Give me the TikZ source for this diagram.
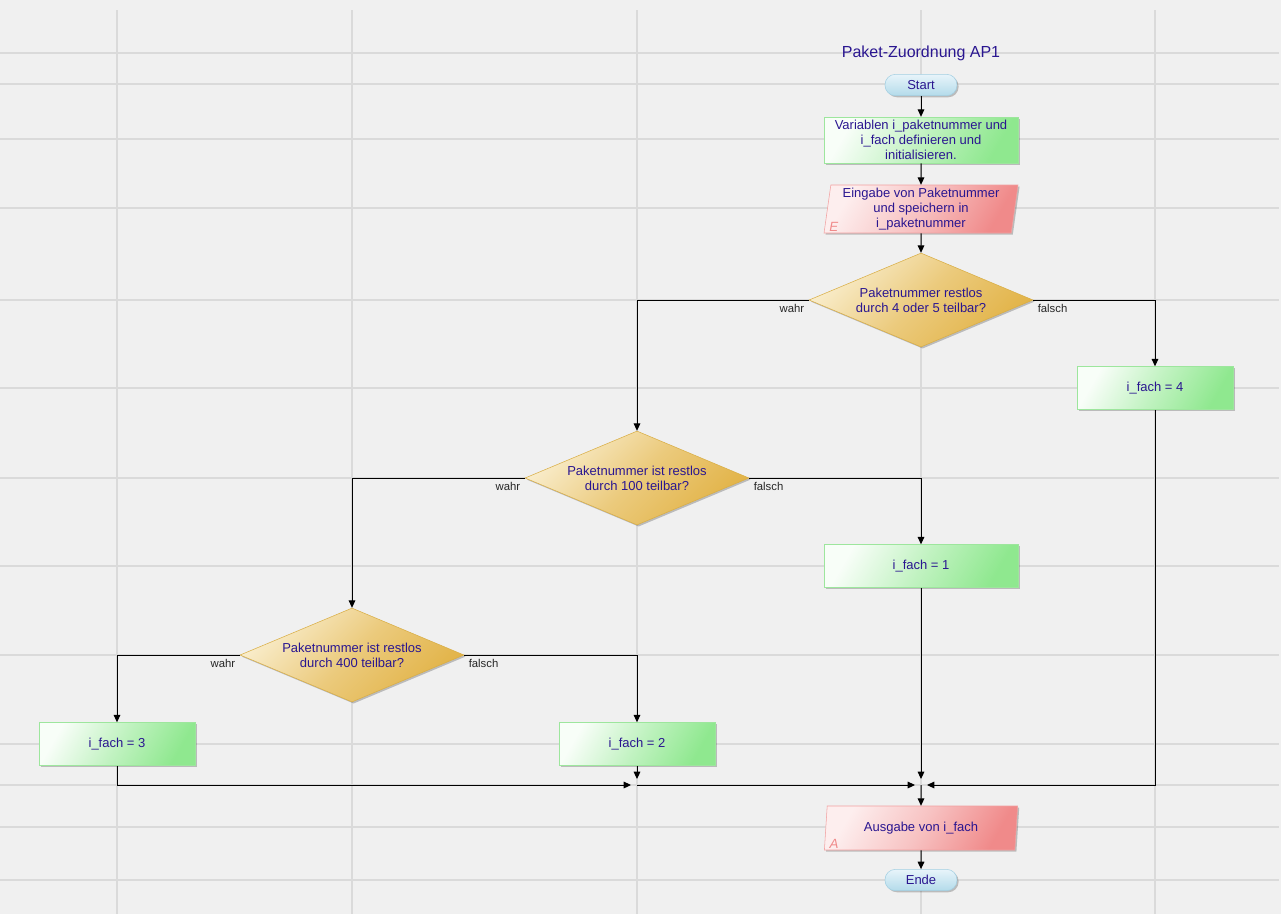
\documentclass[tikz,border=0pt]{standalone}
\usepackage{fontspec}
\setmainfont{Liberation Sans}
\usepackage{tikz}
\usetikzlibrary{arrows.meta,shapes.geometric,shadows}
\definecolor{paper}{HTML}{F0F0F0}
\definecolor{gridline}{HTML}{DADADA}
\definecolor{txtblue}{HTML}{2A1690}
\definecolor{greenend}{HTML}{8FE88F}
\definecolor{greenrim}{HTML}{9DE69D}
\definecolor{redstart}{HTML}{FDEEEE}
\definecolor{redend}{HTML}{F08A8A}
\definecolor{redrim}{HTML}{F2A0A0}
\definecolor{goldstart}{HTML}{F9EDCC}
\definecolor{goldend}{HTML}{E2B347}
\definecolor{goldrim}{HTML}{D9AE45}
\definecolor{bluestart}{HTML}{E8F4FA}
\definecolor{blueend}{HTML}{B3DBEA}
\definecolor{bluerim}{HTML}{A3CFE2}
\newcommand{\flowfont}{\fontsize{9.75pt}{11.25pt}\selectfont}
\newcommand{\lblfont}{\fontsize{8.5pt}{10pt}\selectfont}

\begin{document}
\begin{tikzpicture}[x=0.75pt, y=-0.75pt,
    boxshadow/.style={drop shadow={shadow xshift=1.2pt, shadow yshift=-1.2pt, fill=black, opacity=0.22}},
    terminal/.style={draw=bluerim, top color=bluestart, bottom color=blueend, rounded corners=7.8pt, minimum width=54pt, minimum height=16pt, inner sep=0pt, font=\flowfont, text=txtblue, boxshadow},
    process/.style={draw=greenrim, top color=greenend!6!white, bottom color=greenend, middle color=greenend!55!white, shading angle=60, minimum width=117pt, minimum height=32.25pt, inner sep=0pt, align=center, font=\flowfont, text=txtblue, boxshadow},
    io/.style={trapezium, trapezium left angle=82, trapezium right angle=98, trapezium stretches=true, draw=redrim, top color=redstart, bottom color=redend, middle color=redend!52!white, shading angle=60, minimum width=145.5pt, minimum height=33pt, inner sep=0pt, align=center, font=\flowfont, text=txtblue, boxshadow},
    iotag/.style={anchor=south west, inner sep=1.5pt, xshift=2.5pt, font=\fontsize{10pt}{12pt}\selectfont\itshape, text=redend},
    decision/.style={diamond, aspect=2.38, draw=goldrim, top color=goldstart, bottom color=goldend, middle color=goldend!60!goldstart, shading angle=45, minimum width=168pt, minimum height=70.5pt, inner sep=0pt, align=center, font=\flowfont, text=txtblue, boxshadow},
    lbl/.style={font=\lblfont, text=black!85, inner sep=3pt},
    flow/.style={draw=black, line width=0.75pt, -{Triangle[length=5.5pt,width=5pt]}},
    merge/.style={flow, shorten >=4.5pt}
  ]
  % Paper and grid
  \fill[paper] (0,0) rectangle (1281,914);
  \useasboundingbox (0,0) rectangle (1281,914);
  \foreach \gx in {117,352,637,921,1155}
    \draw[gridline, line width=1pt] (\gx,10) -- (\gx,914);
  \foreach \gy in {53,84,139,208,300,388,478,566,655,744,785,827,880}
    \draw[gridline, line width=1pt] (0,\gy) -- (1279,\gy);

  % Title
  \node[font=\fontsize{12pt}{14pt}\selectfont, text=txtblue] (title) at (921,53) {Paket-Zuordnung AP1};

  % Start and input
  \node[terminal] (start) at (921,85) {Start};
  \node[process, minimum width=145.5pt, minimum height=34.5pt] (init) at (921,140) {Variablen i\_paketnummer und\\i\_fach definieren und\\initialisieren.};
  \node[io, minimum height=36pt] (input) at (921,209) {Eingabe von Paketnummer\\und speichern in\\i\_paketnummer};
  \node[iotag] (intag) at (input.bottom left corner) {E};

  % Decisions
  \node[decision] (q45) at (921,300) {Paketnummer restlos\\durch 4 oder 5 teilbar?};
  \node[decision] (q100) at (637,478) {Paketnummer ist restlos\\durch 100 teilbar?};
  \node[decision] (q400) at (352,655) {Paketnummer ist restlos\\durch 400 teilbar?};

  % Assignments
  \node[process] (fach4) at (1155,388) {i\_fach = 4};
  \node[process, minimum width=145.5pt] (fach1) at (921,566) {i\_fach = 1};
  \node[process] (fach3) at (117,744) {i\_fach = 3};
  \node[process] (fach2) at (637,744) {i\_fach = 2};

  % Joins
  \coordinate (join2) at (637,785);
  \coordinate (join1) at (921,785);

  % Output and end
  \node[io] (output) at (921,828) {Ausgabe von i\_fach};
  \node[iotag] (outtag) at (output.bottom left corner) {A};
  \node[terminal] (stop) at (921,880) {Ende};

  % Edges
  \draw[flow] (start) -- (init);
  \draw[flow] (init) -- (input);
  \draw[flow] (input) -- (q45);
  \draw[flow] (q45.west) -| node[lbl, pos=0, below left] {wahr} (q100.north);
  \draw[flow] (q45.east) -| node[lbl, pos=0, below right] {falsch} (fach4.north);
  \draw[flow] (q100.west) -| node[lbl, pos=0, below left] {wahr} (q400.north);
  \draw[flow] (q100.east) -| node[lbl, pos=0, below right] {falsch} (fach1.north);
  \draw[flow] (q400.west) -| node[lbl, pos=0, below left] {wahr} (fach3.north);
  \draw[flow] (q400.east) -| node[lbl, pos=0, below right] {falsch} (fach2.north);
  \draw[merge] (fach3.south) |- (join2);
  \draw[merge] (fach2.south) -- (join2);
  \draw[merge] (join2) -- (join1);
  \draw[merge] (fach1.south) -- (join1);
  \draw[merge] (fach4.south) |- (join1);
  \draw[flow] (join1) -- (output);
  \draw[flow] (output) -- (stop);
\end{tikzpicture}
\end{document}
